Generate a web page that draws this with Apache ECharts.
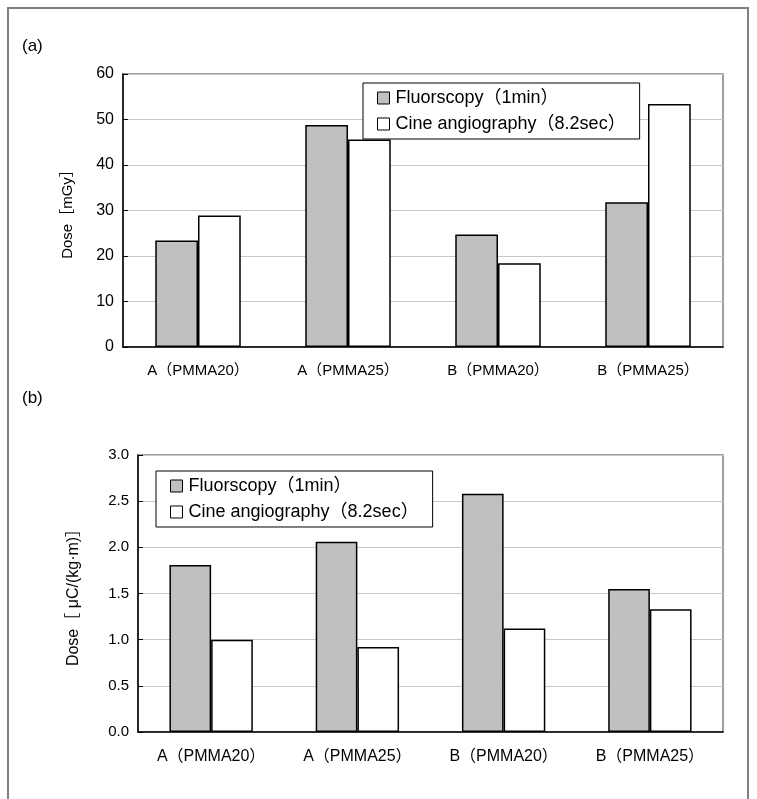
<!DOCTYPE html>
<html>
<head>
<meta charset="utf-8">
<script src="https://cdn.jsdelivr.net/npm/echarts@6/dist/echarts.min.js"></script>
<style>
  html, body { margin: 0; padding: 0; background: #fff; }
  #chart { width: 757px; height: 799px; }
</style>
</head>
<body>
<div id="chart"></div>
<script>
// Categories shared by both panels
const categories = ['A（PMMA20）', 'A（PMMA25）', 'B（PMMA20）', 'B（PMMA25）'];
const seriesNames = ['Fluorscopy（1min）', 'Cine angiography（8.2sec）'];

// Panel (a): dose [mGy]
const doseA_fluoro = [23.4, 48.8, 24.7, 31.8];
const doseA_cine = [28.9, 45.6, 18.4, 53.4];
const ticksA = { min: 0, max: 60, interval: 10 };

// Panel (b): dose [μC/(kg·m)]
const doseB_fluoro = [1.81, 2.06, 2.58, 1.55];
const doseB_cine = [1.00, 0.92, 1.12, 1.33];
const ticksB = { min: 0, max: 3, interval: 0.5 };

// Latin glyphs from Liberation Sans, full-width brackets from Noto Sans CJK JP
const FONT = '"Liberation Sans", "Noto Sans CJK JP", sans-serif';
const GRAY = '#c0c0c0';

const chart = echarts.init(document.getElementById('chart'), null, { renderer: 'canvas' });

function xAxis(gridIndex, size, margin) {
  return {
    type: 'category', gridIndex, data: categories,
    axisLine: { lineStyle: { color: '#000', width: 1.5 } },
    axisTick: { inside: true, length: 5, lineStyle: { color: '#000' } },
    axisLabel: { color: '#000', fontFamily: FONT, fontSize: size, margin, interval: 0 }
  };
}
function yAxis(gridIndex, t, name, nameSize, nameGap, size, fmt) {
  return {
    type: 'value', gridIndex, min: t.min, max: t.max, interval: t.interval,
    name, nameLocation: 'middle', nameGap, nameRotate: 90,
    nameTextStyle: { color: '#000', fontFamily: FONT, fontSize: nameSize },
    axisLine: { show: true, lineStyle: { color: '#000', width: 1.5 } },
    axisTick: { show: true, inside: true, length: 5, lineStyle: { color: '#000' } },
    axisLabel: { color: '#000', fontFamily: FONT, fontSize: size, margin: 9, formatter: fmt },
    splitLine: { show: true, lineStyle: { color: '#c8c8c8', width: 1 } }
  };
}
function bar(name, data, xi, yi, color) {
  return {
    type: 'bar', name, data, xAxisIndex: xi, yAxisIndex: yi,
    barGap: '0%', barCategoryGap: '43%',
    itemStyle: { color, borderColor: '#000', borderWidth: 1.5 },
    emphasis: { disabled: true }
  };
}
function legend(left, top) {
  return {
    orient: 'vertical', left, top,
    data: seriesNames.map(n => ({ name: n, icon: 'rect' })),
    itemWidth: 12, itemHeight: 12, itemGap: 8,
    padding: [6, 14, 6, 14],
    borderColor: '#000', borderWidth: 1, backgroundColor: '#fff',
    textStyle: { color: '#000', fontFamily: FONT, fontSize: 18, padding: [0, 0, 0, 1] },
    itemStyle: { borderColor: '#000', borderWidth: 1 },
    selectedMode: false
  };
}

chart.setOption({
  animation: false,
  backgroundColor: '#fff',
  graphic: [
    { type: 'rect', shape: { x: 8, y: 8, width: 740, height: 800 },
      style: { fill: 'none', stroke: '#808080', lineWidth: 2 }, silent: true },
    { type: 'text', left: 22, top: 38, style: { text: '(a)', font: '17px ' + FONT, fill: '#000' } },
    { type: 'text', left: 22, top: 390, style: { text: '(b)', font: '17px ' + FONT, fill: '#000' } }
  ],
  grid: [
    { left: 123, top: 74, width: 600, height: 273, show: true, borderColor: '#808080', borderWidth: 1.5, backgroundColor: '#fff' },
    { left: 138, top: 455, width: 585, height: 277, show: true, borderColor: '#808080', borderWidth: 1.5, backgroundColor: '#fff' }
  ],
  xAxis: [xAxis(0, 15, 16), xAxis(1, 16, 17)],
  yAxis: [
    yAxis(0, ticksA, 'Dose［mGy］', 15, 48, 16, v => String(v)),
    yAxis(1, ticksB, 'Dose［ μC/(kg·m)］', 16, 56, 15, v => v.toFixed(1))
  ],
  legend: [legend(363, 83), legend(156, 471)],
  series: [
    bar(seriesNames[0], doseA_fluoro, 0, 0, GRAY),
    bar(seriesNames[1], doseA_cine, 0, 0, '#fff'),
    bar(seriesNames[0], doseB_fluoro, 1, 1, GRAY),
    bar(seriesNames[1], doseB_cine, 1, 1, '#fff')
  ]
});
</script>
</body>
</html>
